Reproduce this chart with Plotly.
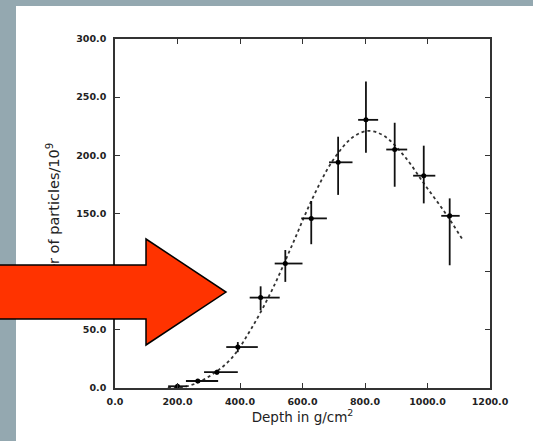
import plotly.graph_objects as go

# ---- data ----
depth = [200, 265, 326, 393, 466, 545, 628, 714, 803, 895, 988, 1071]
particles = [1.5, 6, 13.6, 35.2, 77.7, 107, 145.8, 194, 230.5, 205, 182.5, 148]
depth_err_plus = [30, 65, 67, 64, 61, 55, 50, 46, 39, 40, 37, 32]
depth_err_minus = [30, 38, 41, 37, 35, 34, 32, 29, 25, 27, 34, 27]
part_err_plus = [1, 1.5, 2, 4.3, 9.7, 11.6, 14.9, 22, 33, 23, 25.8, 15]
part_err_minus = [1, 1.5, 2, 4.4, 10.9, 15.8, 22.2, 28, 28.2, 32, 23.8, 42.5]

fit_depth = [169, 240, 306, 371, 436, 502, 567, 632, 698, 763, 812, 861, 927, 992, 1058, 1112]
fit_particles = [0, 2.2, 10.8, 25, 51, 84, 123, 163, 196, 216, 221, 216.7, 199, 174.5, 150, 127.7]

x_ticks = [0, 200, 400, 600, 800, 1000, 1200]
y_ticks = [0, 50, 100, 150, 200, 250, 300]

# ---- layout geometry (pixels) ----
W, H = 533, 441
ML, MR, MT, MB = 115, 43, 39, 53
PW, PH = W - ML - MR, H - MT - MB


def fx(px):
    return (px - ML) / PW


def fy(py):
    return (H - MB - py) / PH


fig = go.Figure()

fig.add_trace(go.Scatter(
    x=fit_depth, y=fit_particles, mode="lines",
    line=dict(color="#333333", width=1.8, dash="3px,3px", shape="spline"),
    hoverinfo="skip", showlegend=False,
))

fig.add_trace(go.Scatter(
    x=depth, y=particles, mode="markers",
    marker=dict(color="black", size=5),
    error_x=dict(type="data", symmetric=False, array=depth_err_plus,
                 arrayminus=depth_err_minus, color="#111111", thickness=1.8, width=0),
    error_y=dict(type="data", symmetric=False, array=part_err_plus,
                 arrayminus=part_err_minus, color="#111111", thickness=1.8, width=0),
    showlegend=False,
))

tickfont = dict(family="DejaVu Sans", size=9.5, color="#222222", weight="bold")
axis_common = dict(
    showgrid=False, zeroline=False, showline=True, linecolor="#333333", linewidth=1.6,
    mirror="ticks", ticks="inside", ticklen=5, tickwidth=1.4, tickcolor="#333333",
    tickfont=tickfont, tickformat=".1f",
)

fig.update_xaxes(range=[0, 1200], tickvals=x_ticks, ticklabelstandoff=4,
                 title=dict(text="Depth in g/cm<sup>2</sup>", standoff=5,
                            font=dict(family="DejaVu Sans", size=13.5, color="#222222")),
                 **axis_common)
fig.update_yaxes(range=[0, 300], tickvals=y_ticks, ticklabelstandoff=5, **axis_common)

# slide background: grey frame with white panel
shapes = [
    dict(type="rect", xref="paper", yref="paper", layer="below",
         x0=fx(16), x1=fx(W + 5), y0=fy(H + 5), y1=fy(6),
         fillcolor="white", line=dict(width=0)),
    # y-axis title drawn as a shape label so that the arrow can sit above it
    dict(type="rect", xref="paper", yref="paper", layer="above",
         x0=fx(44), x1=fx(64), y0=fy(316), y1=fy(143),
         fillcolor="rgba(0,0,0,0)", line=dict(width=0),
         label=dict(text="Number of particles/10<sup>9</sup>", textangle=-90,
                    textposition="middle center",
                    font=dict(family="DejaVu Sans", size=14.5, color="#222222"))),
]

arrow_px = [(-5, 265), (146, 265), (146, 239), (226, 292), (146, 345), (146, 319), (-5, 319)]
path = "M " + " L ".join(f"{fx(px):.5f},{fy(py):.5f}" for px, py in arrow_px) + " Z"
shapes.append(dict(type="path", xref="paper", yref="paper", layer="above", path=path,
                   fillcolor="#ff3300", line=dict(color="black", width=1.5)))

fig.update_layout(
    width=W, height=H,
    margin=dict(l=ML, r=MR, t=MT, b=MB, pad=0),
    paper_bgcolor="#94a8b0", plot_bgcolor="white",
    shapes=shapes,
)

fig.write_html("out.html")
